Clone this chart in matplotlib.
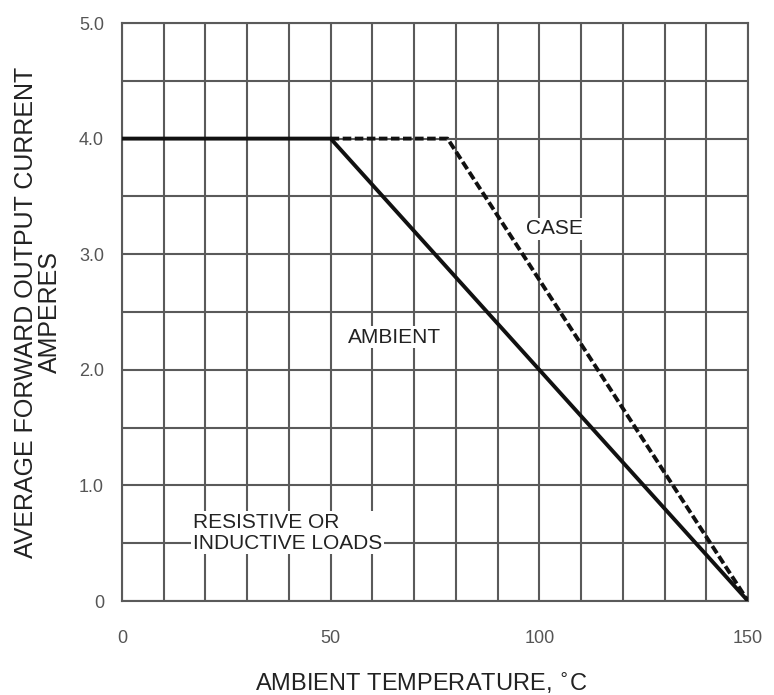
import matplotlib
matplotlib.use("Agg")
import matplotlib.pyplot as plt
import numpy as np

plt.rcParams['font.family'] = ['Liberation Sans', 'DejaVu Sans']

# Data
ambient_x = [0, 50, 150]
ambient_y = [4.0, 4.0, 0.0]
case_x = [50, 78, 150]
case_y = [4.0, 4.0, 0.0]
x_ticks = [0, 50, 100, 150]
x_tick_labels = ["0", "50", "100", "150"]
y_ticks = [0, 1, 2, 3, 4, 5]
y_tick_labels = ["0", "1.0", "2.0", "3.0", "4.0", "5.0"]

fig = plt.figure(figsize=(7.74, 6.95), dpi=100)
ax = fig.add_axes([122/774, 94/695, 626/774, 578/695])

ax.set_xlim(0, 150)
ax.set_ylim(0, 5)

# grid
for gx in np.arange(0, 151, 10):
    ax.axvline(gx, color='#5a5a5a', lw=1.5, zorder=1)
for gy in np.arange(0, 5.01, 0.5):
    ax.axhline(gy, color='#5a5a5a', lw=1.5, zorder=1)
for s in ax.spines.values():
    s.set_color('#5a5a5a')
    s.set_linewidth(1.5)

ax.plot(ambient_x, ambient_y, color='#111111', lw=2.8, solid_capstyle='butt', zorder=3)
ax.plot(case_x, case_y, color='#111111', lw=2.8, linestyle=(0, (2.2, 0.9)), zorder=3)

ax.set_xticks(x_ticks)
ax.set_xticklabels(x_tick_labels)
ax.set_yticks(y_ticks)
ax.set_yticklabels(y_tick_labels)
ax.tick_params(axis='both', length=0, labelsize=13, labelcolor='#555555')
ax.tick_params(axis='x', pad=21)
ax.tick_params(axis='y', pad=13)

bb = dict(facecolor='white', edgecolor='none', pad=1.0)
ax.text(103.5, 3.22, "CASE", fontsize=15, ha='center', va='center', color='#222222', bbox=bb, zorder=4)
ax.text(65.2, 2.28, "AMBIENT", fontsize=15, ha='center', va='center', color='#222222', bbox=bb, zorder=4)
ax.text(17, 0.59, "RESISTIVE OR\nINDUCTIVE LOADS", fontsize=15, ha='left', va='center',
        color='#222222', linespacing=1.15, bbox=bb, zorder=4)

fig.text(38/774, 1 - 312/695, "AVERAGE FORWARD OUTPUT CURRENT\nAMPERES", rotation=90,
         ha='center', va='center', fontsize=18, color='#222222', linespacing=1.0)
fig.text(421/774, 1 - 683/695, "AMBIENT TEMPERATURE, $^{\\circ}$C", ha='center', va='center',
         fontsize=17, color='#222222')

fig.savefig("out.png", dpi=100)
